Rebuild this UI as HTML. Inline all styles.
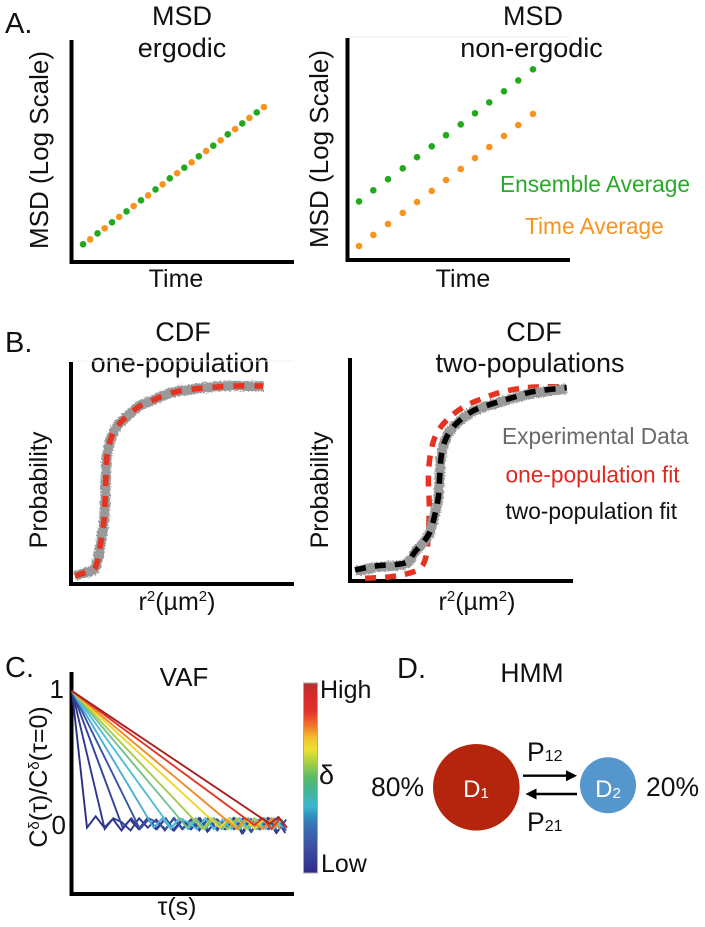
<!DOCTYPE html>
<html lang="en">
<head>
<meta charset="utf-8">
<title>MSD, CDF, VAF and HMM panels</title>
<style>
html,body{margin:0;padding:0;background:#fff;width:705px;height:927px;overflow:hidden}
svg{display:block;filter:blur(0.35px)}
text{font-family:"Liberation Sans",Arial,sans-serif;fill:#111}
.ttl{font-size:27px;text-anchor:middle}
.lbl{font-size:25px;text-anchor:middle}
.panel{font-size:29px}
.leg{font-size:22.7px}
</style>
</head>
<body>
<svg id="figure" xmlns="http://www.w3.org/2000/svg" width="705" height="927" viewBox="0 0 705 927">
<defs>
<filter id="rough" x="-10%" y="-10%" width="120%" height="120%" color-interpolation-filters="sRGB">
<feTurbulence type="fractalNoise" baseFrequency="0.6" numOctaves="2" seed="4" result="n"/>
<feDisplacementMap in="SourceGraphic" in2="n" scale="5" xChannelSelector="R" yChannelSelector="G"/>
</filter>
<linearGradient id="jet" x1="0" y1="0" x2="0" y2="1">
<stop offset="0" stop-color="#b5312f"/><stop offset="0.07" stop-color="#d92a2a"/><stop offset="0.15" stop-color="#e0332a"/>
<stop offset="0.22" stop-color="#f0702a"/><stop offset="0.29" stop-color="#f3c22f"/><stop offset="0.35" stop-color="#eee030"/>
<stop offset="0.42" stop-color="#a8cf45"/><stop offset="0.5" stop-color="#56b868"/><stop offset="0.58" stop-color="#3fb59c"/>
<stop offset="0.65" stop-color="#3eb6d2"/><stop offset="0.7" stop-color="#2f8fbf"/><stop offset="0.76" stop-color="#3a6cb0"/>
<stop offset="0.86" stop-color="#3d52a3"/><stop offset="1" stop-color="#2f2a86"/>
</linearGradient>
</defs>

<!-- Panel A -->
<text class="panel" x="5" y="33">A.</text>
<text class="ttl" x="182" y="25">MSD</text>
<text class="ttl" x="182" y="57">ergodic</text>
<text class="ttl" x="533" y="25">MSD</text>
<text class="ttl" x="531.5" y="57">non-ergodic</text>
<text class="lbl" style="font-size:26px" transform="rotate(-90 48 150)" x="48" y="150">MSD (Log Scale)</text>
<text class="lbl" style="font-size:26px" transform="rotate(-90 328 149)" x="328" y="149">MSD (Log Scale)</text>
<text class="lbl" x="176" y="287">Time</text>
<text class="lbl" x="463" y="287">Time</text>
<rect x="348" y="36.5" width="222" height="1" fill="#eee"/>
<path d="M71.5 40V262H294" fill="none" stroke="#000" stroke-width="4"/>
<path d="M347.5 38V260H570" fill="none" stroke="#000" stroke-width="4"/>
<text class="leg" x="500" y="192" style="fill:#2aa82a">Ensemble Average</text>
<text class="leg" x="525" y="234" style="fill:#f7931e">Time Average</text>
<g id="msdErgodic"></g>
<g id="msdNonErgodic"></g>

<!-- Panel B -->
<text class="panel" x="5" y="352">B.</text>
<text class="ttl" x="183" y="341">CDF</text>
<text class="ttl" x="180" y="372">one-population</text>
<text class="ttl" x="534" y="341">CDF</text>
<text class="ttl" x="530" y="372">two-populations</text>
<text class="lbl" transform="rotate(-90 47 490)" x="47" y="490">Probability</text>
<text class="lbl" transform="rotate(-90 328 490)" x="328" y="490">Probability</text>
<text class="lbl" x="177" y="610">r<tspan font-size="15" dy="-9">2</tspan><tspan dy="9">(µm</tspan><tspan font-size="15" dy="-9">2</tspan><tspan dy="9">)</tspan></text>
<text class="lbl" x="477" y="610">r<tspan font-size="15" dy="-9">2</tspan><tspan dy="9">(µm</tspan><tspan font-size="15" dy="-9">2</tspan><tspan dy="9">)</tspan></text>
<rect x="73" y="360.5" width="221" height="1" fill="#f0f0f0"/>
<path d="M71 362V584H294" fill="none" stroke="#000" stroke-width="4"/>
<path d="M350 358V581H573" fill="none" stroke="#000" stroke-width="4"/>
<text class="leg" x="502" y="444" style="fill:#6a6a6a">Experimental Data</text>
<text class="leg" x="505.5" y="482.5" style="fill:#e3261e">one-population fit</text>
<text class="leg" x="505.5" y="519">two-population fit</text>
<g id="cdfOne"></g>
<g id="cdfTwo"></g>

<!-- Panel C -->
<text class="panel" x="5" y="677">C.</text>
<text class="lbl" style="font-size:26px" x="184" y="686">VAF</text>
<text class="lbl" style="font-size:26px;text-anchor:end" x="64" y="698">1</text>
<text class="lbl" style="font-size:26px;text-anchor:end" x="66" y="834">0</text>
<text class="lbl" style="font-size:25px" transform="rotate(-90 47 777)" x="47" y="777">C<tspan font-size="15" dy="-8">δ</tspan><tspan dy="8">(τ)/C</tspan><tspan font-size="15" dy="-8">δ</tspan><tspan dy="8">(τ=0)</tspan></text>
<text class="lbl" x="177" y="915">τ(s)</text>
<path d="M71.5 672V894H294" fill="none" stroke="#000" stroke-width="4"/>
<g id="vaf"></g>
<rect x="303.5" y="683" width="14" height="190" fill="url(#jet)" stroke="#aaa" stroke-width="1"/>
<text class="lbl" style="text-anchor:start" x="320" y="698">High</text>
<text class="lbl" style="text-anchor:start;font-size:27px" x="319" y="784">δ</text>
<text class="lbl" style="text-anchor:start" x="321" y="872">Low</text>

<!-- Panel D -->
<text class="panel" x="397" y="678">D.</text>
<text class="lbl" style="font-size:26.5px" x="532" y="682">HMM</text>
<circle cx="476.3" cy="787.3" r="43.3" fill="#b5250e"/>
<circle cx="608" cy="785.3" r="28" fill="#5596cc"/>
<text class="lbl" x="476" y="797" style="fill:#fff;font-size:24px">D<tspan font-size="15" dy="1">1</tspan></text>
<text class="lbl" x="608" y="797" style="fill:#fff;font-size:24px">D<tspan font-size="15" dy="1">2</tspan></text>
<text class="lbl" style="font-size:26.5px;text-anchor:start" x="371" y="796">80%</text>
<text class="lbl" style="font-size:26.5px;text-anchor:start" x="646" y="796">20%</text>
<text class="lbl" style="font-size:26.5px;text-anchor:start" x="527" y="761">P<tspan font-size="16" dy="0">12</tspan></text>
<text class="lbl" style="font-size:26.5px;text-anchor:start" x="527" y="831">P<tspan font-size="16" dy="0">21</tspan></text>
<path d="M523 775.7H568" stroke="#000" stroke-width="2.4" fill="none"/>
<polygon points="577,775.7 566,770.2 566,781.2" fill="#000"/>
<path d="M577 794H534" stroke="#000" stroke-width="2.4" fill="none"/>
<polygon points="525.5,794 536.5,788.5 536.5,799.5" fill="#000"/>
</svg>

<script>
// ---------- Panel A data (time %, log-MSD %) ----------
const ergodicEnsembleTime = [5.4,11.9,18.4,24.9,31.4,37.9,44.3,50.8,57.3,63.8,70.3,76.8,83.3];
const ergodicEnsembleMsd  = [8.0,12.9,17.9,22.8,27.8,32.7,37.7,42.5,47.6,52.4,57.5,62.4,67.4];
const ergodicTimeAvgTime  = [8.6,15.1,21.6,28.1,34.6,41.1,47.6,54.1,60.6,67.1,73.6,80.0,86.5];
const ergodicTimeAvgMsd   = [10.2,15.2,20.3,25.2,30.0,35.0,40.0,44.9,50.0,54.8,59.9,64.9,69.8];
const nonErgodicTime      = [5.4,11.8,18.4,25.0,31.4,38.0,44.4,51.0,57.4,63.8,70.4,76.8,83.4];
const nonErgodicEnsemble  = [26.4,31.4,36.4,41.3,46.3,51.2,56.2,61.1,66.1,71.0,76.0,80.9,85.9];
const nonErgodicTimeAvg   = [6.3,11.3,16.2,21.2,26.1,31.1,36.0,41.0,45.9,50.9,55.9,60.8,65.8];

// ---------- Panel B data (r2 %, probability) ----------
const oneR2      = [1.8,5.5,10,11.8,13.3,14.8,15.4,15.7,16.3,18.2,21.2,25.7,30.9,36.9,44.4,53.4,63.8,72.8,86.2];
const oneFitP    = [.036,.048,.063,.10,.183,.288,.393,.499,.589,.664,.716,.761,.802,.829,.859,.877,.886,.892,.892];
const oneDataP   = [.036,.050,.062,.10,.185,.285,.395,.497,.590,.662,.718,.760,.804,.828,.860,.876,.888,.893,.890];
const twoFitR2   = [2.3,12.0,24.8,29.3,35.3,38.0,39.8,40.5,41.3,43.6,48.0,55.5,64.6,73.6,82.6,97.6];
const twoFitP    = [.050,.068,.082,.132,.207,.290,.380,.485,.575,.650,.710,.767,.800,.827,.853,.871];
const twoDataP   = [.044,.062,.076,.130,.205,.292,.378,.487,.573,.652,.708,.765,.796,.823,.846,.865];
const redFitR2   = [6.8,18.0,25.5,31.5,34.2,35.3,35.7,35.3,36.3,38.7,43.6,51.0,60.0,69.0,79.5,88.6,97.6];
const redFitP    = [.012,.019,.032,.057,.109,.215,.335,.470,.575,.658,.725,.783,.823,.853,.871,.875,.875];

// ---------- Panel C data ----------
const vafLags = [1.75,3.8,5.9,7.9,9.5,11.5,13.4,15.2,17.2,19.2,21.2,23];
const vafColors = ['#2b2f86','#2f3a8f','#33449a','#3953a4','#4aaed6','#53bcd8','#74c28d','#a5cc50','#f0d52c','#f08a2c','#e2372a','#a8201f'];
const vafTails = [
 [-.02,.065,-.02,.045,-.04,.04,-.03,.05,-.03,.04,-.04,.04,-.03,.05,-.05,.04,-.03,.05,-.06,.04,-.03,.05,-.06,.03],
 [-.03,.05,.02,-.04,.05,-.02,.04,-.04,.05,-.03,.04,-.04,.05,-.03,.04,-.03,.04,-.05,.04,-.03,.04,-.06],
 [-.02,.05,-.03,.04,-.03,.05,-.04,.04,-.03,.05,-.04,.04,-.03,.05,-.06,.04,-.03,.05,-.05,.04],
 [-.03,.05,.02,-.03,.05,-.03,.04,-.03,.05,-.04,.04,-.03,.05,-.05,.04,-.03,.05,-.04],
 [-.02,.05,-.03,.05,-.03,.04,-.03,.05,-.03,.04,-.03,.05,-.03,.04,-.03,.04],
 [-.02,.05,.02,-.03,.05,-.03,.04,-.03,.05,-.03,.04,-.03,.05,-.02],
 [-.02,.05,-.03,.04,-.03,.05,-.03,.04,-.03,.05,-.03,.04],
 [-.03,.05,.01,-.03,.05,-.03,.05,-.03,.04,-.03],
 [-.02,.05,-.03,.05,-.03,.04,-.03,.05],
 [-.03,.05,.01,-.03,.05,-.03],
 [.0,.05,-.03,.05],
 [.01,.06,-.02]
];

// ---------- Axis functions ----------
const linear = (d0,d1,r0,r1) => v => r0 + (v-d0)*(r1-r0)/(d1-d0);
const xErgodic = linear(0,100,71,294), yErgodic = linear(0,100,262,40);
const xNonErg  = linear(0,100,347,570), yNonErg = linear(0,100,260,38);
const xCdfOne  = linear(0,100,71,294), yCdfOne = linear(0,1,584,362);
const xCdfTwo  = linear(0,100,350,572), yCdfTwo = linear(0,1,581,359);
const xVaf     = linear(0,25,72,287), yVaf = linear(0,1,825,691);

const NS = 'http://www.w3.org/2000/svg';
const make = tag => document.createElementNS(NS, tag);
const GREEN = '#22aa1c', ORANGE = '#f7941e';

function smoothPath(px, py){
  let d = 'M' + px[0].toFixed(1) + ' ' + py[0].toFixed(1);
  for(let i=0;i<px.length-1;i++){
    const a=Math.max(i-1,0), b=Math.min(i+2,px.length-1);
    const c1x=px[i]+(px[i+1]-px[a])/6, c1y=py[i]+(py[i+1]-py[a])/6;
    const c2x=px[i+1]-(px[b]-px[i])/6, c2y=py[i+1]-(py[b]-py[i])/6;
    d += 'C'+c1x.toFixed(1)+' '+c1y.toFixed(1)+' '+c2x.toFixed(1)+' '+c2y.toFixed(1)+' '+px[i+1].toFixed(1)+' '+py[i+1].toFixed(1);
  }
  return d;
}

// ---------- Panel A marks ----------
const gA1 = document.getElementById('msdErgodic');
ergodicEnsembleTime.forEach((t,i) => {
  const c = make('circle');
  c.setAttribute('cx', xErgodic(t));
  c.setAttribute('cy', yErgodic(ergodicEnsembleMsd[i]));
  c.setAttribute('r', 3.3);
  c.setAttribute('fill', GREEN);
  
  
  gA1.appendChild(c);
});
ergodicTimeAvgTime.forEach((t,i) => {
  const c = make('circle');
  c.setAttribute('cx', xErgodic(t));
  c.setAttribute('cy', yErgodic(ergodicTimeAvgMsd[i]));
  c.setAttribute('r', 3.3);
  c.setAttribute('fill', ORANGE);
  
  
  gA1.appendChild(c);
});
const gA2 = document.getElementById('msdNonErgodic');
nonErgodicTime.forEach((t,i) => {
  const c = make('circle');
  c.setAttribute('cx', xNonErg(t));
  c.setAttribute('cy', yNonErg(nonErgodicEnsemble[i]));
  c.setAttribute('r', 3.3);
  c.setAttribute('fill', GREEN);
  
  
  gA2.appendChild(c);
  const o = make('circle');
  o.setAttribute('cx', xNonErg(t));
  o.setAttribute('cy', yNonErg(nonErgodicTimeAvg[i]));
  o.setAttribute('r', 3.3);
  o.setAttribute('fill', ORANGE);
  
  
  gA2.appendChild(o);
});

// ---------- Panel B marks ----------
const gB1 = document.getElementById('cdfOne');
const oneData = make('path');
oneData.setAttribute('d', smoothPath(oneR2.map(xCdfOne), oneDataP.map(yCdfOne)));
oneData.setAttribute('fill', 'none');
oneData.setAttribute('stroke', '#999');
oneData.setAttribute('stroke-width', '10');
oneData.setAttribute('filter', 'url(#rough)');


gB1.appendChild(oneData);
const oneFit = make('path');
oneFit.setAttribute('d', smoothPath(oneR2.map(xCdfOne), oneFitP.map(yCdfOne)));
oneFit.setAttribute('fill', 'none');
oneFit.setAttribute('stroke', '#e5331f');
oneFit.setAttribute('stroke-width', '5.5');
oneFit.setAttribute('stroke-dasharray', '11 10');


gB1.appendChild(oneFit);

const gB2 = document.getElementById('cdfTwo');
const redFit = make('path');
redFit.setAttribute('d', smoothPath(redFitR2.map(xCdfTwo), redFitP.map(yCdfTwo)));
redFit.setAttribute('fill', 'none');
redFit.setAttribute('stroke', '#e5331f');
redFit.setAttribute('stroke-width', '5.5');
redFit.setAttribute('stroke-dasharray', '11 9');


gB2.appendChild(redFit);
const twoData = make('path');
twoData.setAttribute('d', smoothPath(twoFitR2.map(xCdfTwo), twoDataP.map(yCdfTwo)));
twoData.setAttribute('fill', 'none');
twoData.setAttribute('stroke', '#999');
twoData.setAttribute('stroke-width', '10');
twoData.setAttribute('filter', 'url(#rough)');


gB2.appendChild(twoData);
const twoFit = make('path');
twoFit.setAttribute('d', smoothPath(twoFitR2.map(xCdfTwo), twoFitP.map(yCdfTwo)));
twoFit.setAttribute('fill', 'none');
twoFit.setAttribute('stroke', '#000');
twoFit.setAttribute('stroke-width', '5.5');
twoFit.setAttribute('stroke-dasharray', '11 9');


gB2.appendChild(twoFit);

// ---------- Panel C marks ----------
const gC = document.getElementById('vaf');
vafLags.forEach((lag,k) => {
  let pts = xVaf(0).toFixed(1) + ',' + yVaf(1).toFixed(1);
  vafTails[k].forEach((v,j) => {
    pts += ' ' + xVaf(lag+j).toFixed(1) + ',' + yVaf(v).toFixed(1);
  });
  const line = make('polyline');
  line.setAttribute('points', pts);
  line.setAttribute('fill', 'none');
  line.setAttribute('stroke', vafColors[k]);
  line.setAttribute('stroke-width', '1.9');
  
  
  gC.appendChild(line);
});
</script>
</body>
</html>
